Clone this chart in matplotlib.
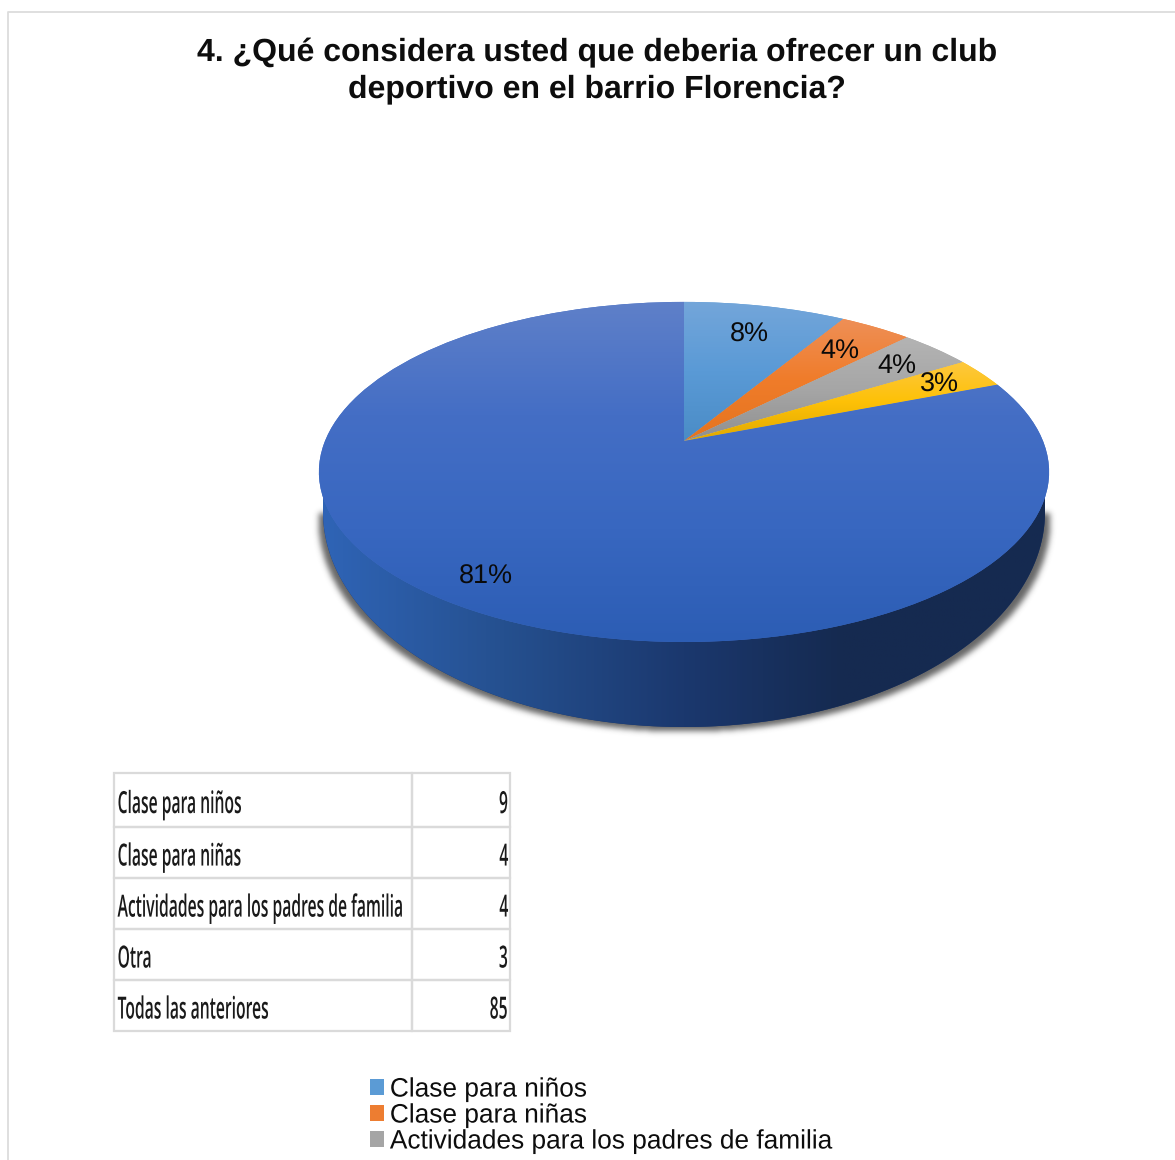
import numpy as np
import matplotlib
matplotlib.use("Agg")
import matplotlib.pyplot as plt
from matplotlib.colors import LinearSegmentedColormap
from matplotlib.patches import Patch, PathPatch
from matplotlib.patheffects import AbstractPathEffect
from matplotlib.path import Path
from matplotlib.transforms import Transform, Affine2D

# ---- data ----
categories = ["Clase para niños", "Clase para niñas",
              "Actividades para los padres de familia", "Otra", "Todas las anteriores"]
counts = [9, 4, 4, 3, 85]
pct_labels = ["8%", "4%", "4%", "3%", "81%"]
legend_shown = 3
title = "4. ¿Qué considera usted que deberia ofrecer un club\ndeportivo en el barrio Florencia?"

# ---- style ----
label_radii = [0.78, 0.79, 0.83, 0.85, 0.855]
legend_colors = ["#5b9bd5", "#ed7d31", "#a5a5a5"]
row_heights = [54, 51, 51, 51, 51]
wedge_stops = [
    ["#74a6da", "#5a9ad6", "#4a8cc6"],
    ["#ee9058", "#f07c2a", "#e4741f"],
    ["#b4b4b4", "#a6a6a6", "#8f8f8f"],
    ["#fdc840", "#fec107", "#dfa800"],
    ["#5f80c9", "#446ec5", "#3867c0", "#2c5db4"],
]
plt.rcParams["font.family"] = ["Liberation Sans", "DejaVu Sans"]
plt.rcParams["text.hinting"] = "no_hinting"
plt.rcParams["text.hinting_factor"] = 1

W, H = 1175, 1160
fig = plt.figure(figsize=(W / 100, H / 100), dpi=100, facecolor="white")
ax = fig.add_axes([0, 0, 1, 1])


class DiscView(Transform):
    """Perspective view of the unit disc, in image pixels."""
    input_dims = output_dims = 2
    is_affine = False
    cx, cy = 684.0, 441.0
    persp, ay, ax_ = 0.182, 164.4, 359.0

    def transform_non_affine(self, v):
        v = np.asarray(v, float)
        w = 1 + self.persp * v[..., 1]
        return np.stack([self.cx + self.ax_ * v[..., 0] / w,
                         self.cy - self.ay * v[..., 1] / w], axis=-1)


class Squeeze(AbstractPathEffect):
    """Condense real text horizontally, as in the stretched table of the source."""

    def __init__(self, sx, right=False, dy=0):
        super().__init__()
        self.sx, self.right, self.dy = sx, right, dy

    def draw_path(self, renderer, gc, tpath, affine, rgbFace=None):
        pivot = tpath.get_extents().x1 if self.right else 0
        pre = Affine2D().translate(-pivot, 0).scale(self.sx, 1).translate(pivot, 0)
        renderer.draw_path(gc, tpath, pre + affine + Affine2D().translate(0, -self.dy), rgbFace)


pct_iter = iter(pct_labels)
wedges, _, autotexts = ax.pie(counts, startangle=90, counterclock=False,
                              autopct=lambda p: next(pct_iter), pctdistance=1.0,
                              textprops={"fontsize": 19.5, "color": "#0a0a0a"})
ax.set_aspect("auto")
ax.set_xlim(0, W)
ax.set_ylim(H, 0)
ax.axis("off")
view = DiscView() + ax.transData

# soft shadow under the disc
yy, xx = np.mgrid[0:H, 0:W]
mask = ((((xx - 684) / 366.0) ** 2 + ((yy - 519) / 212.0) ** 2 < 1) & (yy > 512)).astype(float)
kern = np.exp(-0.5 * (np.arange(-9, 10) / 3.0) ** 2)
kern /= kern.sum()
mask = np.apply_along_axis(lambda r: np.convolve(r, kern, mode="same"), 0, mask)
mask = np.apply_along_axis(lambda r: np.convolve(r, kern, mode="same"), 1, mask)
rgba = np.zeros((H, W, 4))
rgba[..., :3] = 0.2
rgba[..., 3] = 0.75 * mask
ax.imshow(rgba, extent=[0, W, H, 0], aspect="auto", zorder=0.2, interpolation="nearest")

# side wall of the disc
wx, wy, wrx, wry = 684, 512, 361, 215
t = np.linspace(np.pi, 2 * np.pi, 240)
low = np.column_stack([wx + wrx * np.cos(t), wy - wry * np.sin(t)])
wall_path = Path(np.vstack([[[wx - wrx, 472]], low, [[wx + wrx, 472], [wx - wrx, 472]]]))
wall = PathPatch(wall_path, fc="#1a366c", ec="none", zorder=0.5)
ax.add_patch(wall)
wall_cmap = LinearSegmentedColormap.from_list(
    "wall", [(0, "#2f64b6"), (0.25, "#25508f"), (0.5, "#1b386e"), (0.72, "#152a50"), (1, "#162a50")])
im = ax.imshow(np.linspace(0, 1, 256)[None, :], cmap=wall_cmap, aspect="auto",
               extent=[wx - wrx, wx + wrx, 730, 470], zorder=0.6, vmin=0, vmax=1)
im.set_clip_path(wall)

# top face
for wedge, stops in zip(wedges, wedge_stops):
    wedge.set_transform(view)
    wedge.set_facecolor(stops[1])
    wedge.set_edgecolor("none")
    wedge.set_zorder(1)
    cm = LinearSegmentedColormap.from_list("g", stops)
    th = np.deg2rad(np.linspace(wedge.theta1, wedge.theta2, 60))
    corners = view.transform(np.column_stack([np.r_[0, np.cos(th)], np.r_[0, np.sin(th)]]))
    inv = ax.transData.inverted().transform(corners)
    top, bot = inv[:, 1].min(), inv[:, 1].max()
    g = ax.imshow(np.linspace(0, 1, 256)[:, None], cmap=cm, aspect="auto", vmin=0, vmax=1,
                  extent=[inv[:, 0].min() - 2, inv[:, 0].max() + 2, bot + 1, top - 1], zorder=1.1)
    g.set_clip_path(wedge)

label_view = view + Affine2D().translate(0, -2.5)
for txt, r in zip(autotexts, label_radii):
    x, y = txt.get_position()
    txt.set_position((x * r, y * r))
    txt.set_transform(label_view)
    txt.set_ha("center")
    txt.set_va("center")
    txt.set_zorder(3)

ax.set_xlim(0, W)
ax.set_ylim(H, 0)

# frame of the page
ax.plot([8, 8, W], [H, 12, 12], color="#dcdcdc", lw=1.3, zorder=0.1, clip_on=False)

ax.text(597, 71, title, ha="center", va="center", fontsize=23.0, fontweight="bold",
        color="#0d0d0d", linespacing=1.26)

# data table
tbl = ax.table(cellText=[[c, str(v)] for c, v in zip(categories, counts)],
               colWidths=[298 / 396, 98 / 396],
               bbox=[114 / W, 1 - 1031 / H, 396 / W, 258 / H], cellLoc="left")
tbl.auto_set_font_size(False)
for (r, c), cell in tbl.get_celld().items():
    cell.set_height(row_heights[r] / H)
    cell.set_edgecolor("#dadada")
    cell.set_facecolor("none")
    cell.set_linewidth(1.6)
    cell.PAD = 0.012 if c == 0 else 0.012
    txt = cell.get_text()
    txt.set_fontfamily(["Open Sans", "DejaVu Sans"])
    txt.set_fontsize(22)
    txt.set_fontweight("semibold")
    txt.set_color("#1a1a1a")
    if c == 1:
        cell._loc = "right"
        txt.set_ha("right")
    txt.set_path_effects([Squeeze(0.513, right=(c == 1), dy=5)])

# legend, cut by the lower edge as in the source picture
handles = [Patch(fc=col, ec="none") for col in legend_colors]
leg = ax.legend(handles, categories[:legend_shown], loc="upper left",
                bbox_to_anchor=(362 / W, 1 - 1069 / H), frameon=False, fontsize=19.2,
                handlelength=0.525, handleheight=0.525, handletextpad=0.22,
                labelspacing=0.03, borderpad=0.3, borderaxespad=0)
for txt in leg.get_texts():
    txt.set_color("#0d0d0d")
    txt.set_path_effects([Squeeze(0.985)])

fig.savefig("out.png", dpi=100, facecolor="white")
